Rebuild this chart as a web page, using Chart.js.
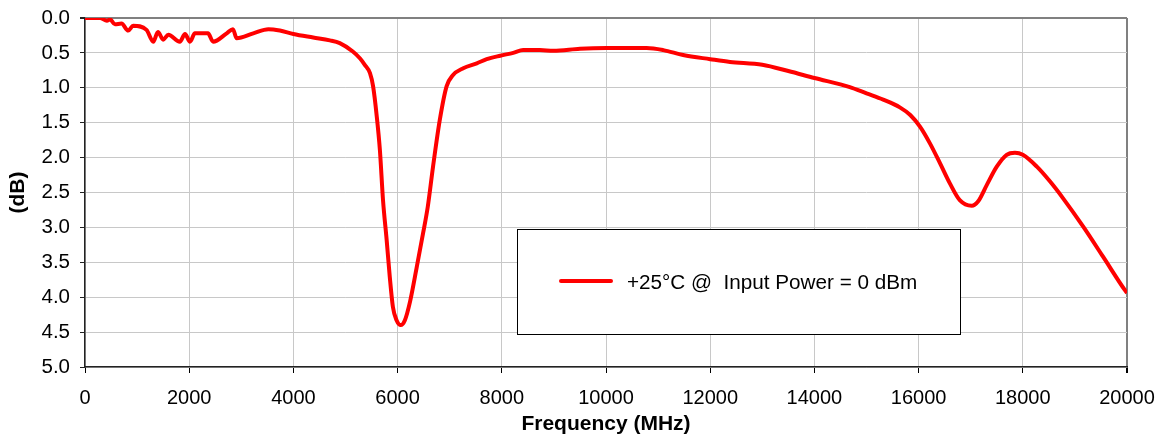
<!DOCTYPE html>
<html>
<head>
<meta charset="utf-8">
<script src="https://cdn.jsdelivr.net/npm/chart.js@4/dist/chart.umd.min.js"></script>
<style>
html,body{margin:0;padding:0;background:#fff;}
#wrap{position:relative;width:1158px;height:439px;}
</style>
</head>
<body>
<div id="wrap"><canvas id="c" width="1158" height="439"></canvas></div>
<script>
const seriesLabel = "+25\u00B0C @  Input Power = 0 dBm";
const xTitle = "Frequency (MHz)";
const yTitle = "(dB)";
const freqMHz = [0,290,420,480,575,700,830,925,1180,1310,1400,1500,1600,1820,1920,2015,2110,2360,2460,2720,2840,2910,3230,3520,3740,4000,4380,4700,4890,5140,5280,5370,5470,5530,5600,5660,5720,5790,5850,5910,5980,6060,6140,6240,6370,6490,6580,6680,6810,6940,7060,7260,7520,7710,7970,8220,8410,8730,8990,9500,10010,10780,11100,11480,12000,12380,13000,13500,14000,14680,15000,15320,15640,15840,16030,16220,16410,16600,16790,17020,17140,17310,17500,17690,17850,18000,18270,18520,18770,19160,19540,19960,20000];
const lossDb = [0,0,0.04,0.02,0.09,0.08,0.18,0.11,0.17,0.34,0.2,0.31,0.24,0.34,0.23,0.34,0.22,0.22,0.34,0.22,0.16,0.29,0.22,0.16,0.18,0.23,0.28,0.32,0.36,0.48,0.58,0.67,0.79,0.98,1.41,1.89,2.61,3.18,3.71,4.14,4.33,4.40,4.33,4.06,3.56,3.08,2.70,2.13,1.46,0.98,0.82,0.72,0.65,0.59,0.54,0.50,0.46,0.46,0.47,0.44,0.43,0.43,0.46,0.53,0.59,0.63,0.67,0.76,0.86,0.99,1.08,1.17,1.28,1.39,1.56,1.80,2.08,2.37,2.61,2.69,2.63,2.39,2.13,1.96,1.93,1.96,2.13,2.34,2.58,2.99,3.42,3.90,3.94];
const xTicks = {min:0, max:20000, step:2000};
const yTicks = {min:0, max:5, step:0.5};

const points = freqMHz.map((f,i)=>({x:f,y:lossDb[i]}));
const FONT = '"Liberation Sans", Arial, sans-serif';

const legendBox = {
  id:'legendBox',
  afterDraw(chart){
    const ctx = chart.ctx;
    ctx.save();
    ctx.fillStyle='#fff';
    ctx.fillRect(517,229,443,105);
    ctx.strokeStyle='#000';
    ctx.lineWidth=1;
    ctx.strokeRect(517.5,229.5,443,105);
    ctx.strokeStyle='#ff0000';
    ctx.lineWidth=4;
    ctx.lineCap='round';
    ctx.beginPath();
    ctx.moveTo(561,281);ctx.lineTo(611,281);ctx.stroke();
    ctx.fillStyle='#000';
    ctx.font='20.7px ' + FONT;
    ctx.textBaseline='middle';
    ctx.fillText(seriesLabel,627,283);
    ctx.restore();
  }
};

function zeroPad(s){ s.paddingTop=0; s.paddingBottom=0; s.paddingLeft=0; s.paddingRight=0; }

new Chart(document.getElementById('c'),{
  type:'line',
  data:{datasets:[{label:seriesLabel,data:points,borderColor:'#ff0000',borderWidth:4,pointRadius:0,fill:false,cubicInterpolationMode:'monotone'}]},
  options:{
    responsive:false,animation:false,
    layout:{padding:{top:18,right:31,left:0,bottom:0}},
    plugins:{legend:{display:false},tooltip:{enabled:false}},
    scales:{
      x:{type:'linear',min:xTicks.min,max:xTicks.max,
        ticks:{stepSize:xTicks.step,color:'#000',font:{family:FONT,size:20},padding:13,maxRotation:0,callback:v=>String(v)},
        grid:{color:ctx=>ctx.tick&&ctx.tick.value===xTicks.max?'#808080':'#c8c8c8',lineWidth:ctx=>ctx.tick&&ctx.tick.value===xTicks.max?2:1,tickColor:'#000',tickLength:6},
        border:{color:'#222',width:1.5},
        title:{display:true,text:xTitle,color:'#000',font:{family:FONT,size:21,weight:'bold'},padding:{top:0,bottom:2}},
        afterFit(s){s.height=72; zeroPad(s);}
      },
      y:{type:'linear',reverse:true,min:yTicks.min,max:yTicks.max,
        ticks:{stepSize:yTicks.step,color:'#000',font:{family:FONT,size:20.5},padding:10,callback:v=>Number(v).toFixed(1)},
        grid:{color:ctx=>ctx.tick&&ctx.tick.value===yTicks.min?'#808080':'#c8c8c8',lineWidth:ctx=>ctx.tick&&ctx.tick.value===yTicks.min?2:1,tickColor:'#222',tickLength:5},
        border:{color:'#222',width:1.5},
        title:{display:true,text:yTitle,color:'#000',font:{family:FONT,size:21,weight:'bold'},padding:{top:6,bottom:0}},
        afterFit(s){s.width=85; zeroPad(s);}
      }
    }
  },
  plugins:[legendBox]
});
</script>
</body>
</html>
